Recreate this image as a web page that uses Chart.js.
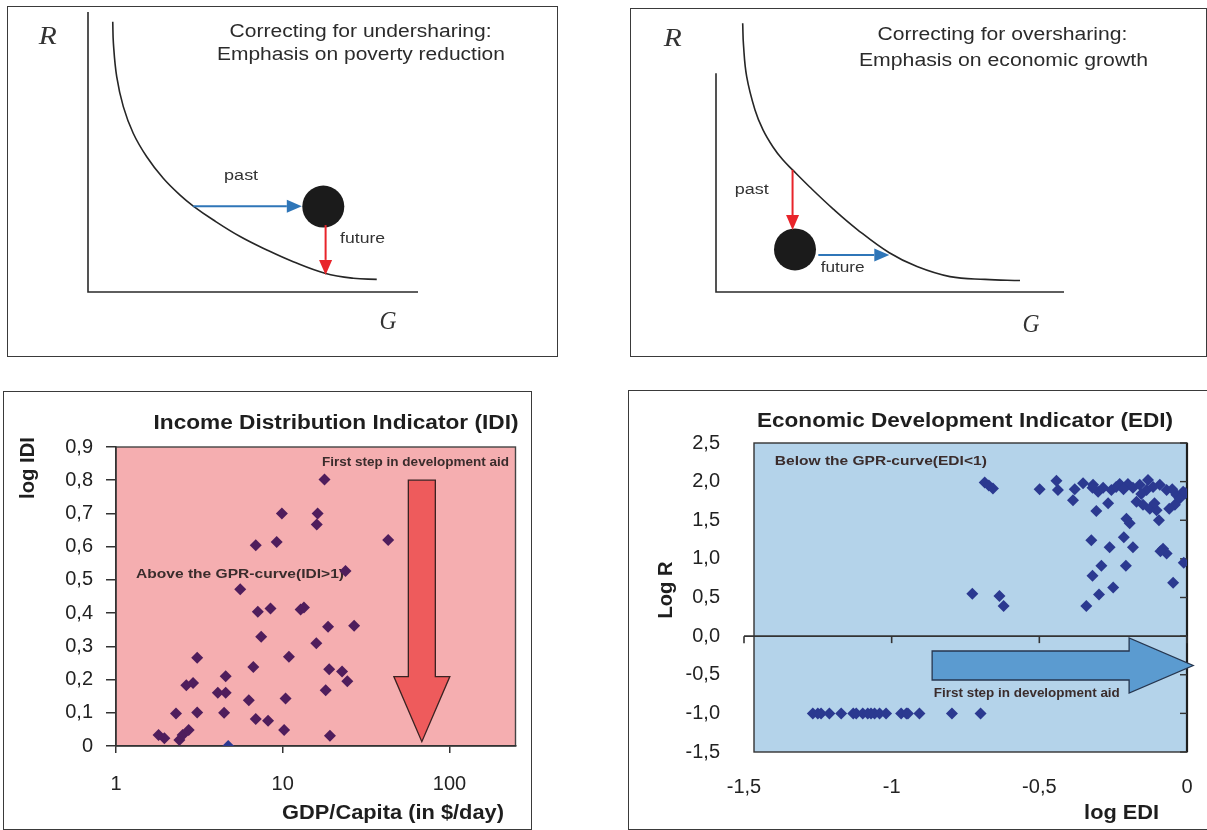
<!DOCTYPE html>
<html>
<head>
<meta charset="utf-8">
<script src="https://cdn.jsdelivr.net/npm/chart.js@4.4.1/dist/chart.umd.min.js"></script>
<style>
  html, body { margin: 0; padding: 0; background: #fff; }
  body { width: 1207px; height: 830px; position: relative; overflow: hidden; }
  .panel { position: absolute; border: 1px solid #3a3a3a; box-sizing: border-box; background: #fff; }
  .panel canvas { position: absolute; left: 0; top: 0; }
</style>
</head>
<body>
<div class="panel" style="left:7px;top:6px;width:551px;height:351px"><canvas id="under" width="549" height="349"></canvas></div>
<div class="panel" style="left:630px;top:8px;width:577px;height:349px"><canvas id="over" width="575" height="347"></canvas></div>
<div class="panel" style="left:3px;top:391px;width:529px;height:439px"><canvas id="idi" width="527" height="437"></canvas></div>
<div class="panel" style="left:628px;top:390px;width:585px;height:440px"><canvas id="edi" width="583" height="438"></canvas></div>

<script>
// ---------- Data ----------
// Income Distribution Indicator: GDP per capita ($/day) against log IDI
const idiGdpPerDay = [1.80, 1.95, 2.29, 2.40, 2.51, 2.73, 2.64, 2.90, 3.07, 3.07, 4.08, 4.55, 4.55, 4.45, 4.71,
  5.56, 6.26, 6.66, 6.89, 6.89, 7.09, 7.43, 8.17, 8.45, 9.20, 9.88, 10.2, 10.4, 10.9, 12.8, 13.4,
  15.9, 16.0, 16.2, 17.8, 18.1, 18.7, 19.0, 19.2, 22.7, 23.8, 24.4, 26.8, 42.9];
const idiLogValue = [0.033, 0.023, 0.098, 0.018, 0.033, 0.048, 0.183, 0.190, 0.266, 0.101, 0.160, 0.160, 0.210, 0.100, 0.000,
  0.472, 0.138, 0.238, 0.604, 0.081, 0.404, 0.329, 0.076, 0.414, 0.614, 0.700, 0.048, 0.143, 0.269, 0.411, 0.417,
  0.309, 0.667, 0.700, 0.802, 0.168, 0.359, 0.231, 0.031, 0.224, 0.527, 0.195, 0.362, 0.620];
const idiXTicks = [1, 10, 100];

// Economic Development Indicator: log EDI against log R
const ediLogEdi = [-1.267, -1.250, -1.239, -1.211, -1.171, -1.130, -1.120, -1.098, -1.081, -1.070, -1.058, -1.041, -1.019,
  -0.968, -0.950, -0.945, -0.906, -0.796, -0.699,
  -0.727, -0.635, -0.621, -0.685, -0.671, -0.657, -0.499, -0.442, -0.437, -0.386, -0.380, -0.352, -0.318, -0.301,
  -0.307, -0.267, -0.284, -0.256, -0.228, -0.200, -0.183, -0.171, -0.205, -0.194, -0.132, -0.137, -0.149, -0.126,
  -0.103, -0.092, -0.069, -0.036, -0.041, -0.013, -0.095, -0.324, -0.262, -0.214, -0.183, -0.081, -0.069, -0.011,
  -0.290, -0.320, -0.207, -0.047, -0.298, -0.250, -0.341,
  -0.240, -0.160, -0.115, -0.155, -0.050, -0.025, -0.215, -0.090, -0.005, -0.320, -0.110, -0.060];
const ediLogR = [-1, -1, -1, -1, -1, -1, -1, -1, -1, -1, -1, -1, -1,
  -1, -1, -1, -1, -1, -1,
  0.55, 0.52, 0.39, 1.99, 1.95, 1.91, 1.90, 2.01, 1.89, 1.76, 1.90, 1.98, 1.96, 1.87,
  1.62, 1.72, 1.92, 1.89, 1.97, 1.97, 1.92, 1.74, 1.52, 1.46, 2.02, 1.89, 1.70, 1.65,
  1.63, 1.96, 1.89, 1.83, 1.70, 1.87, 1.50, 1.24, 1.15, 1.28, 1.15, 1.13, 1.07, 0.95,
  0.91, 0.78, 0.91, 0.69, 0.54, 0.63, 0.39,
  1.93, 1.96, 1.93, 1.84, 1.90, 1.78, 1.90, 1.10, 1.85, 1.92, 1.72, 1.65];

// Block arrows "First step in development aid" (in axis units)
const idiAidArrow = { x: 68.3, yFrom: 0.80, yHead: 0.209, yTip: 0.013 };
const ediAidArrow = { y: -0.38, xFrom: -0.863, xHead: -0.196, xTip: 0.021 };

// Schematic G-R curves (unitless 0..100 axes)
const underCurveG = [7.5, 7.7, 8.7, 10.7, 13.7, 17.8, 22.8, 27.9, 31.9, 38.0, 46.1, 54.2, 62.2, 71.8, 80.4, 87.5];
const underCurveR = [96.5, 88.8, 76.9, 66.2, 56.7, 48.3, 40.6, 34.6, 30.7, 25.7, 19.8, 15.0, 10.8, 6.7, 4.9, 4.5];
const underPosition = [71.3, 30.5];
const underPastArrow = [[31.9, 30.6], [64.8, 30.6]];
const underFutureArrow = [[72.0, 23.9], [72.0, 6.1]];
const underAxes = { gEnd: 100, rTop: 100 };

const overCurveG = [7.67, 7.90, 8.82, 11.21, 13.51, 16.38, 19.14, 22.01, 27.01, 33.62, 40.52, 49.80, 57.76, 67.24, 77.30, 87.36];
const overCurveR = [96.0, 88.2, 76.9, 65.0, 57.9, 51.8, 47.3, 43.6, 37.4, 29.7, 22.4, 14.0, 9.1, 5.5, 4.5, 4.1];
const overPosition = [22.7, 15.2];
const overPastArrow = [[22.0, 43.6], [22.0, 22.1]];
const overFutureArrow = [[29.4, 13.2], [49.8, 13.2]];
const overAxes = { gEnd: 100, rTop: 78.1 };

// ---------- Helpers ----------
const SANS = "'Liberation Sans', Arial, sans-serif";
Chart.defaults.font.family = SANS;
Chart.defaults.color = '#222';

function drawLabel(ctx, text, x, y, o) {
  ctx.save();
  ctx.font = o.font;
  ctx.fillStyle = o.color || '#222';
  ctx.textAlign = 'center';
  ctx.textBaseline = 'middle';
  ctx.translate(x, y);
  if (o.rotate) ctx.rotate(o.rotate);
  if (o.width) {
    const w = ctx.measureText(text).width;
    ctx.scale(o.width / w, 1);
  }
  ctx.fillText(text, 0, 0);
  ctx.restore();
}

function lineArrow(ctx, x1, y1, x2, y2, color) {
  const headLen = 15, headHalf = 6.5;
  const a = Math.atan2(y2 - y1, x2 - x1);
  const bx = x2 - headLen * Math.cos(a), by = y2 - headLen * Math.sin(a);
  ctx.save();
  ctx.strokeStyle = color; ctx.fillStyle = color; ctx.lineWidth = 2;
  ctx.beginPath(); ctx.moveTo(x1, y1); ctx.lineTo(bx, by); ctx.stroke();
  ctx.beginPath();
  ctx.moveTo(x2, y2);
  ctx.lineTo(bx - headHalf * Math.sin(a), by + headHalf * Math.cos(a));
  ctx.lineTo(bx + headHalf * Math.sin(a), by - headHalf * Math.cos(a));
  ctx.closePath(); ctx.fill();
  ctx.restore();
}

const decimalComma = v => (Math.abs(v) < 1e-9 ? 0 : v).toFixed(1).replace('.', ',');
const TICK_FONT = { size: 20 };

// ---------- Schematic panels ----------
function diagram(id, cfg) {
  return new Chart(document.getElementById(id), {
    type: 'scatter',
    data: {
      datasets: [
        {
          data: cfg.curveG.map((g, i) => ({ x: g, y: cfg.curveR[i] })),
          showLine: true, borderColor: '#262626', borderWidth: 1.6, pointRadius: 0,
          tension: 0.4, clip: false
        },
        {
          data: [{ x: cfg.position[0], y: cfg.position[1] }],
          pointRadius: 21, pointHoverRadius: 21, backgroundColor: '#1b1b1b', borderWidth: 0, clip: false
        }
      ]
    },
    options: {
      responsive: false, animation: false, events: [],
      layout: { padding: cfg.padding, autoPadding: false },
      plugins: { legend: { display: false }, tooltip: { enabled: false } },
      elements: { line: { capBezierPoints: false } },
      scales: {
        x: { type: 'linear', min: 0, max: 100, display: false },
        y: { type: 'linear', min: 0, max: 100, display: false }
      }
    },
    plugins: [{
      id: 'schematic',
      beforeDatasetsDraw(chart) {
        const { ctx, scales: { x, y } } = chart;
        ctx.save();
        ctx.strokeStyle = '#2a2a2a'; ctx.lineWidth = 1.6;
        ctx.beginPath();
        ctx.moveTo(x.getPixelForValue(0), y.getPixelForValue(cfg.axes.rTop));
        ctx.lineTo(x.getPixelForValue(0), y.getPixelForValue(0));
        ctx.lineTo(x.getPixelForValue(cfg.axes.gEnd), y.getPixelForValue(0));
        ctx.stroke();
        ctx.restore();
      },
      afterDatasetsDraw(chart) {
        const { ctx, scales: { x, y } } = chart;
        const arrow = (seg, color) => lineArrow(ctx,
          x.getPixelForValue(seg[0][0]), y.getPixelForValue(seg[0][1]),
          x.getPixelForValue(seg[1][0]), y.getPixelForValue(seg[1][1]), color);
        arrow(cfg.pastArrow, cfg.pastColor);
        arrow(cfg.futureArrow, cfg.futureColor);
        cfg.labels.forEach(l => drawLabel(ctx, l.text, x.getPixelForValue(l.at[0]), y.getPixelForValue(l.at[1]), l));
      }
    }]
  });
}

const BLUE_LINE = '#2f76b8', RED_LINE = '#e8242a';

diagram('under', {
  curveG: underCurveG, curveR: underCurveR, position: underPosition, axes: underAxes,
  pastArrow: underPastArrow, futureArrow: underFutureArrow, pastColor: BLUE_LINE, futureColor: RED_LINE,
  padding: { left: 80, right: 139, top: 5, bottom: 64 },
  labels: [
    { text: 'Correcting for undersharing:', at: [82.6, 93.0], font: '18px ' + SANS, color: '#2b2b2b', width: 262 },
    { text: 'Emphasis on poverty reduction', at: [82.7, 84.6], font: '18px ' + SANS, color: '#2b2b2b', width: 288 },
    { text: 'R', at: [-12.2, 91.1], font: "italic 26px 'Liberation Serif', serif", color: '#333', width: 18 },
    { text: 'G', at: [90.9, -10.6], font: "italic 26px 'Liberation Serif', serif", color: '#333', width: 17 },
    { text: 'past', at: [46.4, 41.2], font: '14px ' + SANS, color: '#333', width: 34 },
    { text: 'future', at: [83.2, 18.8], font: '14px ' + SANS, color: '#333', width: 45 }
  ]
});

diagram('over', {
  curveG: overCurveG, curveR: overCurveR, position: overPosition, axes: overAxes,
  pastArrow: overPastArrow, futureArrow: overFutureArrow, pastColor: RED_LINE, futureColor: BLUE_LINE,
  padding: { left: 85, right: 142, top: 3, bottom: 64 },
  labels: [
    { text: 'Correcting for oversharing:', at: [82.3, 91.8], font: '18px ' + SANS, color: '#2b2b2b', width: 250 },
    { text: 'Emphasis on economic growth', at: [82.6, 82.6], font: '18px ' + SANS, color: '#2b2b2b', width: 289 },
    { text: 'R', at: [-12.4, 90.4], font: "italic 26px 'Liberation Serif', serif", color: '#333', width: 18 },
    { text: 'G', at: [90.5, -11.8], font: "italic 26px 'Liberation Serif', serif", color: '#333', width: 17 },
    { text: 'past', at: [10.3, 36.4], font: '14px ' + SANS, color: '#333', width: 34 },
    { text: 'future', at: [36.4, 8.5], font: '14px ' + SANS, color: '#333', width: 44 }
  ]
});

// ---------- Income Distribution Indicator ----------
const NOTE_FONT = 'bold 13px ' + SANS;
const NOTE_COLOR = '#3a2c2c';

new Chart(document.getElementById('idi'), {
  type: 'scatter',
  data: {
    datasets: [{
      data: idiGdpPerDay.map((g, i) => ({ x: g, y: idiLogValue[i] })),
      pointStyle: 'rectRot', pointRadius: 6, pointHoverRadius: 6, pointBorderWidth: 0,
      pointBackgroundColor: c => (c.raw && c.raw.y === 0 ? '#2b3990' : '#4f1d5c'),
      clip: 0
    }]
  },
  options: {
    responsive: false, animation: false, events: [],
    layout: { padding: { left: 0, right: 15.5, top: 55, bottom: 0 }, autoPadding: false },
    plugins: { legend: { display: false }, tooltip: { enabled: false } },
    scales: {
      x: {
        type: 'logarithmic', min: 1, max: 249,
        afterBuildTicks: s => { s.ticks = idiXTicks.map(v => ({ value: v })); },
        afterFit: s => { s.height = 83; s.paddingLeft = 0; s.paddingRight = 0; },
        ticks: { callback: v => String(v), font: TICK_FONT, color: '#222', padding: 19, maxRotation: 0, autoSkip: false },
        grid: { display: true, drawOnChartArea: false, drawTicks: true, tickLength: 7, color: '#333', lineWidth: 1.5 },
        border: { display: true, color: '#333', width: 1.5 }
      },
      y: {
        type: 'linear', min: 0, max: 0.9,
        afterFit: s => { s.width = 112; s.paddingTop = 0; s.paddingBottom = 0; },
        ticks: { stepSize: 0.1, callback: v => (Math.abs(v) < 1e-9 ? '0' : decimalComma(v)), font: TICK_FONT, color: '#222', padding: 13 },
        grid: { display: true, drawOnChartArea: false, drawTicks: true, tickLength: 10, color: '#333', lineWidth: 1.5 },
        border: { display: true, color: '#333', width: 1.5 }
      }
    }
  },
  plugins: [{
    id: 'idiDecor',
    beforeDraw(chart) {
      const { ctx, chartArea: a } = chart;
      ctx.save();
      ctx.fillStyle = '#f5aeb0';
      ctx.fillRect(a.left, a.top, a.right - a.left, a.bottom - a.top);
      ctx.strokeStyle = '#444'; ctx.lineWidth = 1.4;
      ctx.strokeRect(a.left, a.top, a.right - a.left, a.bottom - a.top);
      ctx.restore();
    },
    beforeDatasetsDraw(chart) {
      const ctx = chart.ctx;
      drawLabel(ctx, 'Above the GPR-curve(IDI>1)', 236, 182, { font: NOTE_FONT, color: NOTE_COLOR, width: 208 });
      drawLabel(ctx, 'First step in development aid', 411.5, 70.7, { font: NOTE_FONT, color: NOTE_COLOR, width: 187 });
    },
    afterDatasetsDraw(chart) {
      const { ctx, scales: { x, y } } = chart;
      const cx = x.getPixelForValue(idiAidArrow.x);
      const y0 = y.getPixelForValue(idiAidArrow.yFrom);
      const yh = y.getPixelForValue(idiAidArrow.yHead);
      const yt = y.getPixelForValue(idiAidArrow.yTip);
      const sw = 13.5, hw = 28;
      ctx.save();
      ctx.beginPath();
      ctx.moveTo(cx - sw, y0); ctx.lineTo(cx + sw, y0); ctx.lineTo(cx + sw, yh); ctx.lineTo(cx + hw, yh);
      ctx.lineTo(cx, yt); ctx.lineTo(cx - hw, yh); ctx.lineTo(cx - sw, yh); ctx.closePath();
      ctx.fillStyle = '#ee5b5c'; ctx.fill();
      ctx.strokeStyle = '#3a2222'; ctx.lineWidth = 1.3; ctx.stroke();
      ctx.restore();
    },
    afterDraw(chart) {
      const ctx = chart.ctx;
      drawLabel(ctx, 'Income Distribution Indicator (IDI)', 332, 31, { font: 'bold 20px ' + SANS, color: '#1e1e1e', width: 365 });
      drawLabel(ctx, 'log IDI', 24.5, 76, { font: 'bold 20px ' + SANS, color: '#1e1e1e', width: 62, rotate: -Math.PI / 2 });
      drawLabel(ctx, 'GDP/Capita (in $/day)', 389, 421.5, { font: 'bold 20px ' + SANS, color: '#1e1e1e', width: 222 });
    }
  }]
});

// ---------- Economic Development Indicator ----------
new Chart(document.getElementById('edi'), {
  type: 'scatter',
  data: {
    datasets: [{
      data: ediLogEdi.map((v, i) => ({ x: v, y: ediLogR[i] })),
      pointStyle: 'rectRot', pointRadius: 6, pointHoverRadius: 6, pointBorderWidth: 0,
      pointBackgroundColor: '#2b3990', clip: 0
    }]
  },
  options: {
    responsive: false, animation: false, events: [],
    layout: { padding: { left: 0, right: 25, top: 52, bottom: 0 }, autoPadding: false },
    plugins: { legend: { display: false }, tooltip: { enabled: false } },
    scales: {
      x: {
        type: 'linear', min: -1.5, max: 0,
        afterFit: s => { s.height = 77; s.paddingLeft = 0; s.paddingRight = 0; },
        ticks: { stepSize: 0.5, callback: v => (Math.abs(v - Math.round(v)) < 1e-9 ? String(Math.round(v) || 0) : decimalComma(v)),
                 font: TICK_FONT, color: '#222', padding: 23, maxRotation: 0, autoSkip: false },
        grid: { display: true, drawOnChartArea: false, drawTicks: false },
        border: { display: false }
      },
      y: {
        type: 'linear', min: -1.5, max: 2.5,
        afterFit: s => { s.width = 115; s.paddingTop = 0; s.paddingBottom = 0; },
        ticks: { stepSize: 0.5, callback: v => decimalComma(v), font: TICK_FONT, color: '#222', padding: 24 },
        grid: { display: true, drawOnChartArea: false, drawTicks: false },
        border: { display: false }
      }
    }
  },
  plugins: [{
    id: 'ediDecor',
    beforeDraw(chart) {
      const { ctx, chartArea: a } = chart;
      const inset = 10;
      ctx.save();
      ctx.fillStyle = '#b4d3ea';
      ctx.fillRect(a.left + inset, a.top, a.right - a.left - inset, a.bottom - a.top);
      ctx.restore();
    },
    beforeDatasetsDraw(chart) {
      const { ctx, chartArea: a, scales: { x, y } } = chart;
      const inset = 10;
      ctx.save();
      ctx.strokeStyle = '#333'; ctx.lineWidth = 1.4;
      ctx.strokeRect(a.left + inset, a.top, a.right - a.left - inset, a.bottom - a.top);
      ctx.strokeStyle = '#1e1e1e'; ctx.lineWidth = 2.2;
      ctx.beginPath(); ctx.moveTo(a.right, a.top); ctx.lineTo(a.right, a.bottom); ctx.stroke();
      // right-side tick marks
      ctx.lineWidth = 1.4; ctx.strokeStyle = '#333';
      y.ticks.forEach(t => {
        const py = y.getPixelForValue(t.value);
        ctx.beginPath(); ctx.moveTo(a.right - 7, py); ctx.lineTo(a.right, py); ctx.stroke();
      });
      // horizontal axis crossing at log R = 0
      const y0 = y.getPixelForValue(0);
      ctx.lineWidth = 1.6;
      ctx.beginPath(); ctx.moveTo(a.left, y0); ctx.lineTo(a.right, y0); ctx.stroke();
      x.ticks.forEach(t => {
        const px = x.getPixelForValue(t.value);
        ctx.beginPath(); ctx.moveTo(px, y0); ctx.lineTo(px, y0 + 7); ctx.stroke();
      });
      ctx.restore();
      drawLabel(ctx, 'Below the GPR-curve(EDI<1)', 251.8, 70.7, { font: NOTE_FONT, color: NOTE_COLOR, width: 212 });
    },
    afterDatasetsDraw(chart) {
      const { ctx, scales: { x, y } } = chart;
      const cy = y.getPixelForValue(ediAidArrow.y);
      const x0 = x.getPixelForValue(ediAidArrow.xFrom);
      const xh = x.getPixelForValue(ediAidArrow.xHead);
      const xt = x.getPixelForValue(ediAidArrow.xTip);
      const sh = 14.5, hh = 27.5;
      ctx.save();
      ctx.beginPath();
      ctx.moveTo(x0, cy - sh); ctx.lineTo(xh, cy - sh); ctx.lineTo(xh, cy - hh); ctx.lineTo(xt, cy);
      ctx.lineTo(xh, cy + hh); ctx.lineTo(xh, cy + sh); ctx.lineTo(x0, cy + sh); ctx.closePath();
      ctx.fillStyle = '#5b9bd0'; ctx.fill();
      ctx.strokeStyle = '#26364f'; ctx.lineWidth = 1.3; ctx.stroke();
      ctx.restore();
      drawLabel(ctx, 'First step in development aid', 397.8, 302.3, { font: NOTE_FONT, color: NOTE_COLOR, width: 186 });
    },
    afterDraw(chart) {
      const ctx = chart.ctx;
      drawLabel(ctx, 'Economic Development Indicator (EDI)', 336, 30.5, { font: 'bold 20px ' + SANS, color: '#1e1e1e', width: 416 });
      drawLabel(ctx, 'Log R', 37, 199, { font: 'bold 20px ' + SANS, color: '#1e1e1e', width: 57, rotate: -Math.PI / 2 });
      drawLabel(ctx, 'log EDI', 492.6, 422.3, { font: 'bold 20px ' + SANS, color: '#1e1e1e', width: 75 });
    }
  }]
});
</script>
</body>
</html>
